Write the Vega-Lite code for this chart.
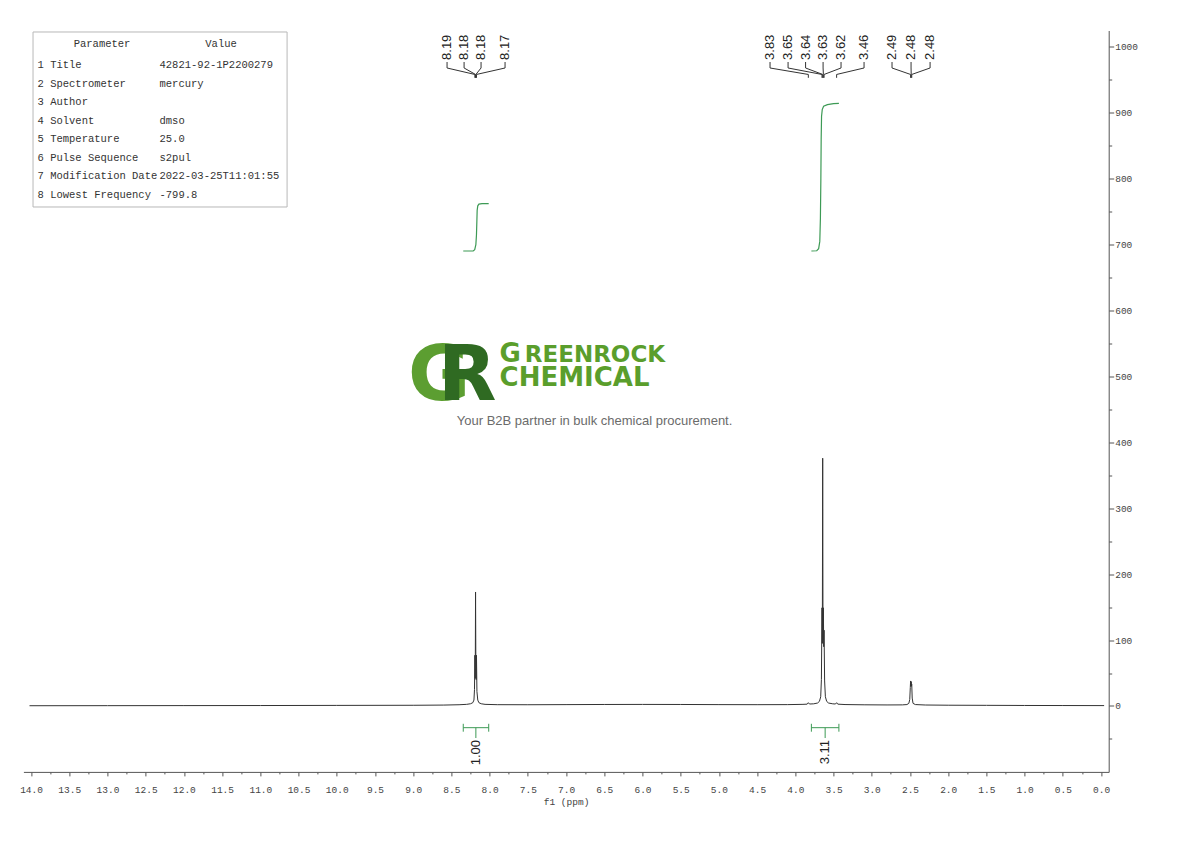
{
  "$schema": "https://vega.github.io/schema/vega-lite/v6.json",
  "width": 1085.3,
  "height": 741.4,
  "autosize": {"type": "none"},
  "padding": {"left": 23.4, "top": 30.5, "right": 81.3, "bottom": 69.1},
  "background": "white",
  "config": {"view": {"stroke": null}},
  "datasets": {
    "spectrum": [
      {"ppm": 14.02, "intensity": 0.4},
      {"ppm": 13.0, "intensity": 0.5},
      {"ppm": 12.0, "intensity": 0.6},
      {"ppm": 11.0, "intensity": 0.7},
      {"ppm": 10.0, "intensity": 0.9},
      {"ppm": 9.0, "intensity": 1.1},
      {"ppm": 8.6, "intensity": 1.4},
      {"ppm": 8.4, "intensity": 1.9},
      {"ppm": 8.3, "intensity": 2.5},
      {"ppm": 8.25, "intensity": 3.4},
      {"ppm": 8.22, "intensity": 5},
      {"ppm": 8.205, "intensity": 9},
      {"ppm": 8.198, "intensity": 25},
      {"ppm": 8.193, "intensity": 77},
      {"ppm": 8.188, "intensity": 42},
      {"ppm": 8.184, "intensity": 173},
      {"ppm": 8.18, "intensity": 60},
      {"ppm": 8.176, "intensity": 40},
      {"ppm": 8.172, "intensity": 77},
      {"ppm": 8.166, "intensity": 22},
      {"ppm": 8.155, "intensity": 9},
      {"ppm": 8.14, "intensity": 5},
      {"ppm": 8.11, "intensity": 3.4},
      {"ppm": 8.06, "intensity": 2.5},
      {"ppm": 7.9, "intensity": 2},
      {"ppm": 7.5, "intensity": 1.9},
      {"ppm": 7.0, "intensity": 2.1},
      {"ppm": 6.5, "intensity": 2.3},
      {"ppm": 6.0, "intensity": 2.4},
      {"ppm": 5.5, "intensity": 2.3},
      {"ppm": 5.0, "intensity": 2.1},
      {"ppm": 4.5, "intensity": 2},
      {"ppm": 4.1, "intensity": 2.1},
      {"ppm": 3.9, "intensity": 2.5},
      {"ppm": 3.845, "intensity": 2.8},
      {"ppm": 3.83, "intensity": 5},
      {"ppm": 3.815, "intensity": 3},
      {"ppm": 3.76, "intensity": 3.3},
      {"ppm": 3.71, "intensity": 4.5},
      {"ppm": 3.685, "intensity": 7},
      {"ppm": 3.668, "intensity": 14},
      {"ppm": 3.659, "intensity": 40},
      {"ppm": 3.651, "intensity": 149},
      {"ppm": 3.647, "intensity": 95},
      {"ppm": 3.642, "intensity": 376},
      {"ppm": 3.638, "intensity": 100},
      {"ppm": 3.633, "intensity": 149},
      {"ppm": 3.629, "intensity": 90},
      {"ppm": 3.624, "intensity": 115},
      {"ppm": 3.617, "intensity": 38},
      {"ppm": 3.607, "intensity": 14},
      {"ppm": 3.59, "intensity": 7},
      {"ppm": 3.565, "intensity": 4.5},
      {"ppm": 3.51, "intensity": 3.3},
      {"ppm": 3.475, "intensity": 3},
      {"ppm": 3.46, "intensity": 5},
      {"ppm": 3.445, "intensity": 2.8},
      {"ppm": 3.35, "intensity": 2.2},
      {"ppm": 3.1, "intensity": 1.8},
      {"ppm": 2.8, "intensity": 1.6},
      {"ppm": 2.6, "intensity": 1.7},
      {"ppm": 2.54, "intensity": 2.2},
      {"ppm": 2.515, "intensity": 4},
      {"ppm": 2.503, "intensity": 10},
      {"ppm": 2.496, "intensity": 28},
      {"ppm": 2.492, "intensity": 38},
      {"ppm": 2.488, "intensity": 30},
      {"ppm": 2.484, "intensity": 37},
      {"ppm": 2.481, "intensity": 30},
      {"ppm": 2.477, "intensity": 33},
      {"ppm": 2.471, "intensity": 12},
      {"ppm": 2.46, "intensity": 4},
      {"ppm": 2.43, "intensity": 2.2},
      {"ppm": 2.3, "intensity": 1.5},
      {"ppm": 2.0, "intensity": 1.2},
      {"ppm": 1.5, "intensity": 1},
      {"ppm": 1.0, "intensity": 0.8},
      {"ppm": 0.5, "intensity": 0.7},
      {"ppm": -0.04, "intensity": 0.6}
    ],
    "integralCurves": [
      {"id": 1, "ppm": 8.345, "level": 690.4},
      {"id": 1, "ppm": 8.215, "level": 690.6},
      {"id": 1, "ppm": 8.195, "level": 692.5},
      {"id": 1, "ppm": 8.18, "level": 700},
      {"id": 1, "ppm": 8.172, "level": 715},
      {"id": 1, "ppm": 8.167, "level": 735},
      {"id": 1, "ppm": 8.163, "level": 752},
      {"id": 1, "ppm": 8.155, "level": 759},
      {"id": 1, "ppm": 8.14, "level": 761.6},
      {"id": 1, "ppm": 8.1, "level": 762.3},
      {"id": 1, "ppm": 8.012, "level": 762.4},
      {"id": 2, "ppm": 3.79, "level": 690.4},
      {"id": 2, "ppm": 3.72, "level": 690.8},
      {"id": 2, "ppm": 3.695, "level": 694},
      {"id": 2, "ppm": 3.68, "level": 705},
      {"id": 2, "ppm": 3.672, "level": 740},
      {"id": 2, "ppm": 3.666, "level": 800},
      {"id": 2, "ppm": 3.662, "level": 860},
      {"id": 2, "ppm": 3.657, "level": 895},
      {"id": 2, "ppm": 3.648, "level": 905},
      {"id": 2, "ppm": 3.63, "level": 910},
      {"id": 2, "ppm": 3.58, "level": 912.5},
      {"id": 2, "ppm": 3.5, "level": 914},
      {"id": 2, "ppm": 3.43, "level": 914.4}
    ],
    "integration": [
      {"from": 8.345, "to": 8.012, "center": 8.18, "value": "1.00"},
      {"from": 3.79, "to": 3.43, "center": 3.61, "value": "3.11"}
    ],
    "peaks": [
      {"label": "8.19", "pos": 8.557, "ppm": 8.193},
      {"label": "8.18", "pos": 8.334, "ppm": 8.184},
      {"label": "8.18", "pos": 8.112, "ppm": 8.18},
      {"label": "8.17", "pos": 7.798, "ppm": 8.172},
      {"label": "3.83", "pos": 4.331, "ppm": 3.83},
      {"label": "3.65", "pos": 4.095, "ppm": 3.651},
      {"label": "3.64", "pos": 3.866, "ppm": 3.642},
      {"label": "3.63", "pos": 3.637, "ppm": 3.633},
      {"label": "3.62", "pos": 3.402, "ppm": 3.624},
      {"label": "3.46", "pos": 3.101, "ppm": 3.46},
      {"label": "2.49", "pos": 2.735, "ppm": 2.492},
      {"label": "2.48", "pos": 2.486, "ppm": 2.484},
      {"label": "2.48", "pos": 2.237, "ppm": 2.477}
    ],
    "parameters": [
      {"row": 1, "parameter": "1 Title", "value": "42821-92-1P2200279"},
      {"row": 2, "parameter": "2 Spectrometer", "value": "mercury"},
      {"row": 3, "parameter": "3 Author", "value": ""},
      {"row": 4, "parameter": "4 Solvent", "value": "dmso"},
      {"row": 5, "parameter": "5 Temperature", "value": "25.0"},
      {"row": 6, "parameter": "6 Pulse Sequence", "value": "s2pul"},
      {"row": 7, "parameter": "7 Modification Date", "value": "2022-03-25T11:01:55"},
      {"row": 8, "parameter": "8 Lowest Frequency", "value": "-799.8"}
    ]
  },
  "layer": [
    {
      "layer": [
        {
          "data": {"name": "spectrum"},
          "mark": {"type": "line", "color": "#333333", "strokeWidth": 1},
          "encoding": {
            "x": {
              "field": "ppm", "type": "quantitative",
              "scale": {"domain": [-0.1, 14.1], "reverse": true, "nice": false, "zero": false},
              "axis": {
                "orient": "bottom", "title": "f1 (ppm)", "grid": false,
                "values": [0, 0.25, 0.5, 0.75, 1, 1.25, 1.5, 1.75, 2, 2.25, 2.5, 2.75, 3, 3.25, 3.5, 3.75, 4, 4.25, 4.5, 4.75, 5, 5.25, 5.5, 5.75, 6, 6.25, 6.5, 6.75, 7, 7.25, 7.5, 7.75, 8, 8.25, 8.5, 8.75, 9, 9.25, 9.5, 9.75, 10, 10.25, 10.5, 10.75, 11, 11.25, 11.5, 11.75, 12, 12.25, 12.5, 12.75, 13, 13.25, 13.5, 13.75, 14],
                "format": ".1f",
                "labelExpr": "datum.value % 0.5 === 0 ? datum.label : ''",
                "tickSize": {"condition": {"test": "datum.value % 0.5 !== 0", "value": 2}, "value": 4},
                "domainColor": "#555555", "tickColor": "#555555",
                "labelColor": "#444444", "labelFont": "Liberation Mono", "labelFontSize": 9.5,
                "labelPadding": 9, "labelOverlap": false, "labelFlush": false,
                "titleFont": "Liberation Mono", "titleFontSize": 9.5, "titleFontWeight": "normal",
                "titleColor": "#444444", "titlePadding": 2
              }
            },
            "y": {
              "field": "intensity", "type": "quantitative",
              "scale": {"domain": [-100, 1025], "nice": false, "zero": false},
              "axis": {
                "orient": "right", "title": null, "grid": false,
                "values": [-50, 0, 50, 100, 150, 200, 250, 300, 350, 400, 450, 500, 550, 600, 650, 700, 750, 800, 850, 900, 950, 1000],
                "format": "d",
                "labelExpr": "datum.value % 100 === 0 ? datum.label : ''",
                "tickSize": {"condition": {"test": "datum.value % 100 !== 0", "value": 3}, "value": 5},
                "domainColor": "#555555", "tickColor": "#555555",
                "labelColor": "#444444", "labelFont": "Liberation Mono", "labelFontSize": 9.5,
                "labelPadding": 1, "labelOverlap": false, "labelFlush": false
              }
            }
          }
        },
        {
          "data": {"name": "integralCurves"},
          "mark": {"type": "line", "color": "#3d9a55", "strokeWidth": 1.2},
          "encoding": {
            "x": {"field": "ppm", "type": "quantitative", "axis": null},
            "y": {"field": "level", "type": "quantitative", "axis": null},
            "detail": {"field": "id", "type": "nominal"}
          }
        },
        {
          "data": {"name": "integration"},
          "mark": {"type": "rule", "color": "#3d9a55", "strokeWidth": 1},
          "encoding": {
            "x": {"field": "from", "type": "quantitative", "axis": null},
            "x2": {"field": "to"},
            "y": {"datum": -32.9, "type": "quantitative", "axis": null}
          }
        },
        {
          "data": {"name": "integration"},
          "mark": {"type": "rule", "color": "#3d9a55", "strokeWidth": 1},
          "encoding": {
            "x": {"field": "from", "type": "quantitative", "axis": null},
            "y": {"datum": -27, "type": "quantitative", "axis": null},
            "y2": {"datum": -39}
          }
        },
        {
          "data": {"name": "integration"},
          "mark": {"type": "rule", "color": "#3d9a55", "strokeWidth": 1},
          "encoding": {
            "x": {"field": "to", "type": "quantitative", "axis": null},
            "y": {"datum": -27, "type": "quantitative", "axis": null},
            "y2": {"datum": -39}
          }
        },
        {
          "data": {"name": "integration"},
          "mark": {"type": "rule", "color": "#3d9a55", "strokeWidth": 1},
          "encoding": {
            "x": {"field": "center", "type": "quantitative", "axis": null},
            "y": {"datum": -32.9, "type": "quantitative", "axis": null},
            "y2": {"datum": -48.6}
          }
        },
        {
          "data": {"name": "integration"},
          "mark": {"type": "text", "angle": 270, "align": "right", "baseline": "middle", "font": "Liberation Sans", "fontSize": 13, "color": "#222222"},
          "encoding": {
            "x": {"field": "center", "type": "quantitative", "axis": null},
            "y": {"datum": -51.6, "type": "quantitative", "axis": null},
            "text": {"field": "value"}
          }
        },
        {
          "data": {"name": "peaks"},
          "mark": {"type": "text", "angle": 270, "align": "left", "baseline": "middle", "font": "Liberation Sans", "fontSize": 13, "color": "#222222"},
          "encoding": {
            "x": {"field": "pos", "type": "quantitative", "axis": null},
            "y": {"datum": 980.3, "type": "quantitative", "axis": null},
            "text": {"field": "label"}
          }
        },
        {
          "data": {"name": "peaks"},
          "mark": {"type": "rule", "color": "#333333", "strokeWidth": 1},
          "encoding": {
            "x": {"field": "pos", "type": "quantitative", "axis": null},
            "y": {"datum": 977.2, "type": "quantitative", "axis": null},
            "y2": {"datum": 968.1}
          }
        },
        {
          "data": {"name": "peaks"},
          "mark": {"type": "rule", "color": "#333333", "strokeWidth": 1},
          "encoding": {
            "x": {"field": "pos", "type": "quantitative", "axis": null},
            "x2": {"field": "ppm"},
            "y": {"datum": 968.1, "type": "quantitative", "axis": null},
            "y2": {"datum": 958.3}
          }
        },
        {
          "data": {"name": "peaks"},
          "mark": {"type": "rule", "color": "#333333", "strokeWidth": 1},
          "encoding": {
            "x": {"field": "ppm", "type": "quantitative", "axis": null},
            "y": {"datum": 958.3, "type": "quantitative", "axis": null},
            "y2": {"datum": 953.2}
          }
        },
        {
          "data": {"values": [{}]},
          "mark": {"type": "text", "text": "G", "font": "DejaVu Sans", "fontWeight": "bold", "fontSize": 76, "color": "#5c9e31", "align": "left", "baseline": "alphabetic"},
          "encoding": {
            "x": {"datum": 9.067, "type": "quantitative", "axis": null},
            "y": {"datum": 464.3, "type": "quantitative", "axis": null}
          }
        },
        {
          "data": {"values": [{}]},
          "mark": {"type": "text", "text": "R", "font": "DejaVu Sans", "fontWeight": "bold", "fontSize": 76, "color": "#2f6a22", "align": "left", "baseline": "alphabetic"},
          "encoding": {
            "x": {"datum": 8.675, "type": "quantitative", "axis": null},
            "y": {"datum": 464.3, "type": "quantitative", "axis": null}
          }
        },
        {
          "data": {"values": [{}]},
          "mark": {"type": "text", "text": "G", "font": "DejaVu Sans", "fontWeight": "bold", "fontSize": 26, "color": "#5a9e2c", "align": "left", "baseline": "alphabetic"},
          "encoding": {
            "x": {"datum": 7.87, "type": "quantitative", "axis": null},
            "y": {"datum": 522.0, "type": "quantitative", "axis": null}
          }
        },
        {
          "data": {"values": [{}]},
          "mark": {"type": "text", "text": "REENROCK", "font": "DejaVu Sans", "fontWeight": "bold", "fontSize": 23, "color": "#5a9e2c", "align": "left", "baseline": "alphabetic"},
          "encoding": {
            "x": {"datum": 7.54, "type": "quantitative", "axis": null},
            "y": {"datum": 522.0, "type": "quantitative", "axis": null}
          }
        },
        {
          "data": {"values": [{}]},
          "mark": {"type": "text", "text": "CHEMICAL", "font": "DejaVu Sans", "fontWeight": "bold", "fontSize": 26, "color": "#5a9e2c", "align": "left", "baseline": "alphabetic"},
          "encoding": {
            "x": {"datum": 7.87, "type": "quantitative", "axis": null},
            "y": {"datum": 485.6, "type": "quantitative", "axis": null}
          }
        },
        {
          "data": {"values": [{}]},
          "mark": {"type": "text", "text": "Your B2B partner in bulk chemical procurement.", "font": "Liberation Sans", "fontSize": 13, "color": "#6b6b6b", "align": "center", "baseline": "middle"},
          "encoding": {
            "x": {"datum": 6.627, "type": "quantitative", "axis": null},
            "y": {"datum": 432.5, "type": "quantitative", "axis": null}
          }
        }
      ],
      "resolve": {"axis": {"x": "independent", "y": "independent"}}
    },
    {
      "layer": [
        {
          "data": {"values": [{}]},
          "mark": {"type": "rect", "fill": "white", "stroke": "#b8b8b8", "strokeWidth": 1},
          "encoding": {
            "x": {"datum": 13.974, "type": "quantitative", "axis": null},
            "x2": {"datum": 10.65},
            "y": {"datum": -0.8005, "type": "quantitative", "axis": null,
                  "scale": {"domain": [-0.8816, 39.216], "reverse": true, "nice": false, "zero": false}},
            "y2": {"datum": 8.664}
          }
        },
        {
          "data": {"values": [{"row": 0, "parameter": "Parameter", "value": "Value"}]},
          "mark": {"type": "text", "font": "Liberation Mono", "fontSize": 10.5, "color": "#333333", "align": "center", "baseline": "middle", "dy": -3},
          "encoding": {
            "x": {"datum": 13.071, "type": "quantitative", "axis": null},
            "y": {"field": "row", "type": "quantitative", "axis": null},
            "text": {"field": "parameter"}
          }
        },
        {
          "data": {"values": [{"row": 0, "parameter": "Parameter", "value": "Value"}]},
          "mark": {"type": "text", "font": "Liberation Mono", "fontSize": 10.5, "color": "#333333", "align": "center", "baseline": "middle", "dy": -3},
          "encoding": {
            "x": {"datum": 11.514, "type": "quantitative", "axis": null},
            "y": {"field": "row", "type": "quantitative", "axis": null},
            "text": {"field": "value"}
          }
        },
        {
          "data": {"name": "parameters"},
          "mark": {"type": "text", "font": "Liberation Mono", "fontSize": 10.5, "color": "#333333", "align": "left", "baseline": "middle"},
          "encoding": {
            "x": {"datum": 13.915, "type": "quantitative", "axis": null},
            "y": {"field": "row", "type": "quantitative", "axis": null},
            "text": {"field": "parameter"}
          }
        },
        {
          "data": {"name": "parameters"},
          "mark": {"type": "text", "font": "Liberation Mono", "fontSize": 10.5, "color": "#333333", "align": "left", "baseline": "middle"},
          "encoding": {
            "x": {"datum": 12.319, "type": "quantitative", "axis": null},
            "y": {"field": "row", "type": "quantitative", "axis": null},
            "text": {"field": "value"}
          }
        }
      ],
      "resolve": {"axis": {"x": "independent", "y": "independent"}}
    }
  ],
  "resolve": {"scale": {"y": "independent"}, "axis": {"x": "independent", "y": "independent"}}
}
